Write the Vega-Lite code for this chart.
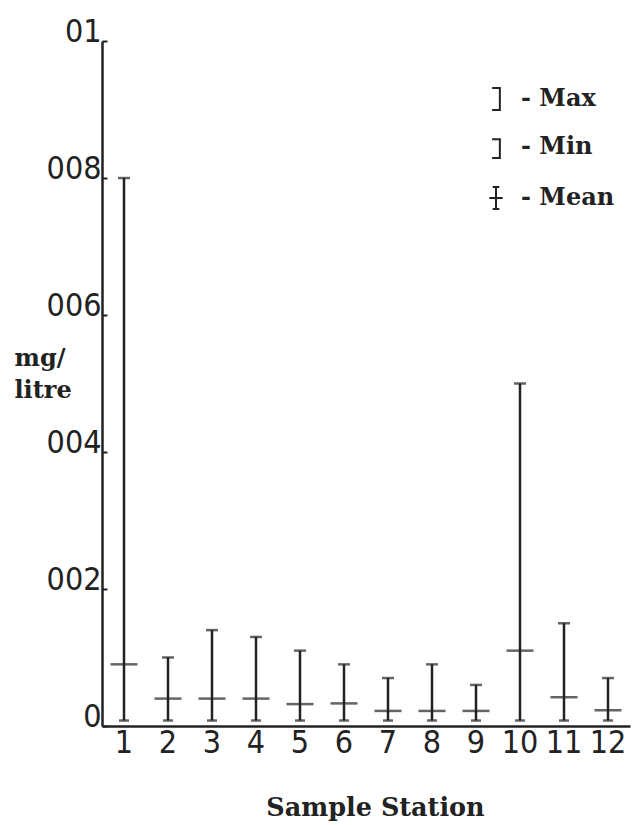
{
  "$schema": "https://vega.github.io/schema/vega-lite/v6.json",
  "width": 528,
  "height": 685,
  "autosize": {"type": "none"},
  "padding": {"left": 102, "top": 41, "right": 4, "bottom": 99},
  "background": "white",
  "config": {
    "view": {"stroke": null},
    "axis": {"grid": false, "domainColor": "#222", "domainWidth": 2.5, "labelColor": "#222", "titleColor": "#222"}
  },
  "data": {
    "values": [
      {"station": "1", "min": 0.0008, "mean": 0.009, "max": 0.08},
      {"station": "2", "min": 0.0008, "mean": 0.004, "max": 0.010},
      {"station": "3", "min": 0.0008, "mean": 0.004, "max": 0.014},
      {"station": "4", "min": 0.0008, "mean": 0.004, "max": 0.013},
      {"station": "5", "min": 0.0008, "mean": 0.0032, "max": 0.011},
      {"station": "6", "min": 0.0008, "mean": 0.0033, "max": 0.009},
      {"station": "7", "min": 0.0008, "mean": 0.0022, "max": 0.007},
      {"station": "8", "min": 0.0008, "mean": 0.0022, "max": 0.009},
      {"station": "9", "min": 0.0008, "mean": 0.0022, "max": 0.006},
      {"station": "10", "min": 0.0008, "mean": 0.011, "max": 0.050},
      {"station": "11", "min": 0.0008, "mean": 0.0042, "max": 0.015},
      {"station": "12", "min": 0.0008, "mean": 0.0023, "max": 0.007}
    ]
  },
  "encoding": {
    "x": {
      "field": "station", "type": "ordinal", "sort": null,
      "scale": {"paddingInner": 0, "paddingOuter": 0},
      "axis": {
        "labelAngle": 0, "ticks": false, "labelPadding": 1,
        "labelFont": "DejaVu Sans Condensed, sans-serif", "labelFontSize": 32,
        "title": "Sample Station", "titleFont": "DejaVu Serif", "titleFontWeight": "bold", "titleFontSize": 25.5,
        "titleBaseline": "alphabetic", "titleY": 89, "titleX": 273
      }
    }
  },
  "layer": [
    {
      "mark": {"type": "rule", "color": "#222", "strokeWidth": 2.5},
      "encoding": {
        "y": {
          "field": "min", "type": "quantitative",
          "scale": {"domain": [0, 0.1], "nice": false},
          "axis": {
            "values": [0, 0.02, 0.04, 0.06, 0.08, 0.1], "format": ".2~f",
            "labelExpr": "replace(datum.label, '.', '')",
            "ticks": true, "tickSize": -5, "tickColor": "#222", "tickWidth": 2,
            "labelFont": "DejaVu Sans Condensed, sans-serif", "labelFontSize": 32,
            "labelBaseline": "alphabetic", "labelPadding": 6,
            "title": ["mg/", "litre"], "titleAngle": 0, "titleAlign": "left", "titleBaseline": "alphabetic",
            "titleX": -88, "titleY": 324, "titleLineHeight": 32,
            "titleFont": "DejaVu Serif", "titleFontWeight": "bold", "titleFontSize": 24
          }
        },
        "y2": {"field": "max"}
      }
    },
    {
      "mark": {"type": "tick", "size": 12, "thickness": 2.5, "color": "#222"},
      "encoding": {"y": {"field": "max", "type": "quantitative"}}
    },
    {
      "mark": {"type": "tick", "size": 27, "thickness": 2.5, "color": "#222"},
      "encoding": {"y": {"field": "mean", "type": "quantitative"}}
    },
    {
      "mark": {"type": "tick", "size": 10, "thickness": 2.5, "color": "#222"},
      "encoding": {"y": {"field": "min", "type": "quantitative"}}
    },
    {
      "transform": [{"fold": ["max", "min", "mean"], "as": ["stat", "value"]}],
      "mark": {"type": "point", "opacity": 0},
      "encoding": {
        "y": {"field": "value", "type": "quantitative"},
        "shape": {
          "field": "stat", "type": "nominal",
          "scale": {
            "domain": ["max", "min", "mean"],
            "range": ["M-0.35,-1H0.35V1H-0.35", "M-0.35,-0.7H0.35V1H-0.35", "M-0.3,-1H0.3M0,-1V1M-0.6,0H0.6M-0.3,1H0.3"]
          },
          "legend": {
            "title": null, "orient": "none", "legendX": 382, "legendY": 46,
            "symbolSize": 484, "symbolStrokeColor": "#222", "symbolStrokeWidth": 2, "symbolFillColor": "transparent", "symbolOpacity": 1,
            "labelExpr": "{'max': '- Max', 'min': '- Min', 'mean': '- Mean'}[datum.label]",
            "labelFont": "DejaVu Serif", "labelFontWeight": "bold", "labelFontSize": 24, "labelColor": "#222",
            "labelOffset": 13, "rowPadding": 21
          }
        }
      }
    }
  ]
}
